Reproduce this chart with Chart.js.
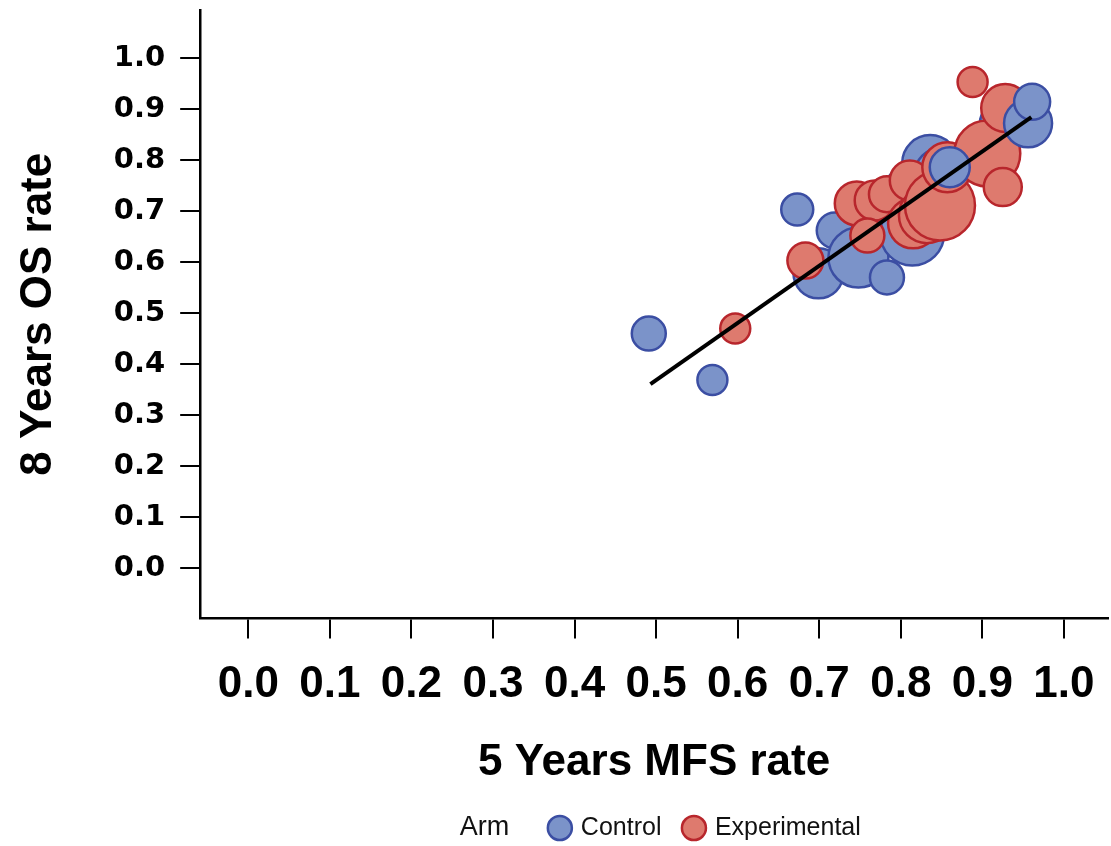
<!DOCTYPE html>
<html>
<head>
<meta charset="utf-8">
<script src="https://cdn.jsdelivr.net/npm/chart.js@4.4.1/dist/chart.umd.min.js"></script>
<style>
  html, body { margin: 0; padding: 0; background: #fff; }
  #wrap { width: 1111px; height: 846px; }
</style>
</head>
<body>
<div id="wrap"><canvas id="myChart"></canvas></div>
<script>
// values (x = 5y MFS, y = 8y OS, r = bubble radius)
const controlX = [0.491, 0.569, 0.673, 0.699, 0.719, 0.748, 0.783, 0.785, 0.814, 0.803, 0.836, 0.848, 0.860, 0.924, 0.956, 0.961];
const controlY = [0.460, 0.369, 0.703, 0.578, 0.662, 0.609, 0.570, 0.680, 0.656, 0.747, 0.794, 0.774, 0.786, 0.872, 0.872, 0.914];
const controlR = [17, 15, 16, 25, 18, 30, 17, 17, 32, 18, 28, 25, 20, 22, 24, 18];

const expX = [0.597, 0.683, 0.746, 0.768, 0.759, 0.783, 0.811, 0.815, 0.832, 0.848, 0.857, 0.906, 0.925, 0.928, 0.888];
const expY = [0.470, 0.603, 0.715, 0.721, 0.652, 0.733, 0.760, 0.676, 0.692, 0.711, 0.786, 0.813, 0.747, 0.902, 0.953];
const expR = [15, 18, 22, 20, 17, 18, 20, 25, 28, 35, 25, 33, 19, 24, 15];

// regression line end points
const fitX = [0.493, 0.960];
const fitY = [0.361, 0.884];

const tickValues = [0, 0.1, 0.2, 0.3, 0.4, 0.5, 0.6, 0.7, 0.8, 0.9, 1.0];

// control points drawn over the experimental ones
const frontControl = [12, 14, 15];

const colors = {
    blue: { fill: "#7b93c9", line: "#3b4ea3" },
    red: { fill: "#de7a6e", line: "#b8262c" }
};

function pts(xs, ys, rs, keep) {
    const out = [];
    xs.forEach((x, i) => {
        if (keep && !keep(i)) return;
        out.push({ x: x, y: ys[i], r: rs ? rs[i] : 0 });
    });
    return out;
}

const fontMain = "'Liberation Sans', Arial, sans-serif";

// "Arm" title sits left of the legend items, on the same row
const armLabel = {
    id: "armLabel",
    afterLayout(chart) {
        const lg = chart.legend;
        if (!lg) return;
        lg.left += 52;
        lg.right += 52;
    },
    afterDraw(chart) {
        const lg = chart.legend;
        if (!lg || !lg.legendHitBoxes || !lg.legendHitBoxes.length) return;
        const hb = lg.legendHitBoxes[0];
        const ctx = chart.ctx;
        ctx.save();
        ctx.font = "27px " + fontMain;
        ctx.fillStyle = "#111";
        ctx.textAlign = "right";
        ctx.textBaseline = "middle";
        ctx.fillText("Arm", hb.left - 42, hb.top + hb.height / 2);
        ctx.restore();
    }
};

const noEdgePad = s => { s.paddingTop = 0; s.paddingBottom = 0; s.paddingLeft = 0; s.paddingRight = 0; };

const ctx = document.getElementById("myChart").getContext("2d");

new Chart(ctx, {
    data: {
        datasets: [
            {
                type: "bubble",
                label: "Control",
                data: pts(controlX, controlY, controlR, i => !frontControl.includes(i)),
                backgroundColor: colors.blue.fill,
                borderColor: colors.blue.line,
                borderWidth: 2.5,
                order: 4
            },
            {
                type: "bubble",
                label: "Experimental",
                data: pts(expX, expY, expR),
                backgroundColor: colors.red.fill,
                borderColor: colors.red.line,
                borderWidth: 2.5,
                order: 3
            },
            {
                type: "bubble",
                label: "ControlFront",
                data: pts(controlX, controlY, controlR, i => frontControl.includes(i)),
                backgroundColor: colors.blue.fill,
                borderColor: colors.blue.line,
                borderWidth: 2.5,
                order: 2
            },
            {
                type: "line",
                label: "fit",
                data: pts(fitX, fitY),
                borderColor: "#000",
                borderWidth: 4,
                pointRadius: 0,
                fill: false,
                order: 1
            }
        ]
    },
    options: {
        responsive: true,
        maintainAspectRatio: false,
        animation: false,
        layout: { autoPadding: false, padding: { top: 10, right: 3, left: 0, bottom: -4.5 } },
        scales: {
            x: {
                type: "linear",
                min: -0.059,
                max: 1.054,
                afterBuildTicks: axis => { axis.ticks = tickValues.map(v => ({ value: v })); },
                afterFit: noEdgePad,
                grid: { drawOnChartArea: false, drawTicks: true, tickLength: 20, color: "#000", lineWidth: 2 },
                border: { display: true, color: "#000", width: 2.5 },
                ticks: {
                    color: "#000",
                    padding: 20,
                    maxRotation: 0,
                    autoSkip: false,
                    font: { family: fontMain, size: 44, weight: "bold" },
                    callback: v => Number(v).toFixed(1)
                },
                title: {
                    display: true,
                    text: "5 Years MFS rate",
                    color: "#000",
                    font: { family: fontMain, size: 44, weight: "bold" },
                    padding: { top: 5, bottom: 2.5 }
                }
            },
            y: {
                type: "linear",
                min: -0.098,
                max: 1.094,
                afterBuildTicks: axis => { axis.ticks = tickValues.map(v => ({ value: v })); },
                afterFit: noEdgePad,
                grid: { drawOnChartArea: false, drawTicks: true, tickLength: 20, color: "#000", lineWidth: 2 },
                border: { display: true, color: "#000", width: 2.5 },
                ticks: {
                    color: "#000",
                    padding: 15,
                    autoSkip: false,
                    font: { family: "'DejaVu Sans', sans-serif", size: 29, weight: "bold" },
                    callback: v => Number(v).toFixed(1)
                },
                title: {
                    display: true,
                    text: "8 Years OS rate",
                    color: "#000",
                    font: { family: fontMain, size: 44, weight: "bold" },
                    padding: { top: 12, bottom: 34 }
                }
            }
        },
        plugins: {
            legend: {
                position: "bottom",
                fullSize: false,
                labels: {
                    usePointStyle: true,
                    pointStyle: "circle",
                    boxWidth: 17,
                    boxHeight: 17,
                    padding: 24,
                    color: "#111",
                    font: { family: fontMain, size: 25 },
                    sort: (a, b) => a.datasetIndex - b.datasetIndex,
                    filter: item => item.text === "Control" || item.text === "Experimental"
                }
            },
            tooltip: { enabled: false }
        }
    },
    plugins: [armLabel]
});
</script>
</body>
</html>
